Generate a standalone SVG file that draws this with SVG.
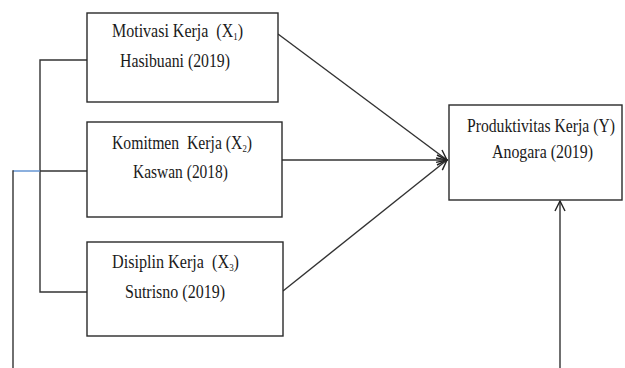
<svg xmlns="http://www.w3.org/2000/svg" width="625" height="368" viewBox="0 0 625 368">
<style>
.box{fill:#fff;stroke:#2a2a2a;stroke-width:1.4}
.t{font-family:"Liberation Serif","Times New Roman",serif;font-size:18px;fill:#1a1a1a}
.sub{font-size:10px}
.ln{fill:none;stroke:#333;stroke-width:1.4}
</style>
<defs>
<marker id="ah" viewBox="0 0 12 12" refX="11" refY="6" markerWidth="12" markerHeight="12" markerUnits="userSpaceOnUse" orient="auto">
<path d="M1,1 L11,6 L1,11" fill="none" stroke="#222" stroke-width="1.4"/>
</marker>
</defs>
<rect width="625" height="368" fill="#fff"/>
<g id="connectors">
<line class="ln" x1="278" y1="34" x2="447" y2="160" marker-end="url(#ah)"/>
<line class="ln" x1="282" y1="160" x2="447" y2="160" marker-end="url(#ah)"/>
<line class="ln" x1="283" y1="291" x2="447" y2="160" marker-end="url(#ah)"/>
<polyline class="ln" points="87,60 40,60 40,292 87,292"/>
<line class="ln" x1="40" y1="171" x2="87" y2="171"/>
<line x1="13" y1="171" x2="40" y2="171" stroke="#5b8fd0" stroke-width="1.4"/>
<line class="ln" x1="13" y1="170.3" x2="13" y2="368"/>
<line class="ln" x1="560" y1="368" x2="560" y2="201" marker-end="url(#ah)"/>
</g>
<g id="node-x1">
<rect class="box" x="87" y="13" width="191" height="89"/>
<text class="t" x="112" y="37" textLength="131" lengthAdjust="spacingAndGlyphs" xml:space="preserve">Motivasi Kerja  (X<tspan class="sub" dy="3">1</tspan><tspan dy="-3">)</tspan></text>
<text class="t" x="120" y="67" textLength="110" lengthAdjust="spacingAndGlyphs">Hasibuani (2019)</text>
</g>
<g id="node-x2">
<rect class="box" x="87" y="122" width="195" height="95"/>
<text class="t" x="112" y="149" textLength="140" lengthAdjust="spacingAndGlyphs" xml:space="preserve">Komitmen  Kerja (X<tspan class="sub" dy="3">2</tspan><tspan dy="-3">)</tspan></text>
<text class="t" x="133" y="178" textLength="95" lengthAdjust="spacingAndGlyphs">Kaswan (2018)</text>
</g>
<g id="node-x3">
<rect class="box" x="87" y="242" width="196" height="94"/>
<text class="t" x="112" y="268" textLength="127" lengthAdjust="spacingAndGlyphs" xml:space="preserve">Disiplin Kerja  (X<tspan class="sub" dy="3">3</tspan><tspan dy="-3">)</tspan></text>
<text class="t" x="125" y="298" textLength="100" lengthAdjust="spacingAndGlyphs">Sutrisno (2019)</text>
</g>
<g id="node-y">
<rect class="box" x="449" y="105" width="173" height="95"/>
<text class="t" x="467" y="132" textLength="148" lengthAdjust="spacingAndGlyphs">Produktivitas Kerja (Y)</text>
<text class="t" x="492" y="158" textLength="101" lengthAdjust="spacingAndGlyphs">Anogara (2019)</text>
</g>
</svg>
